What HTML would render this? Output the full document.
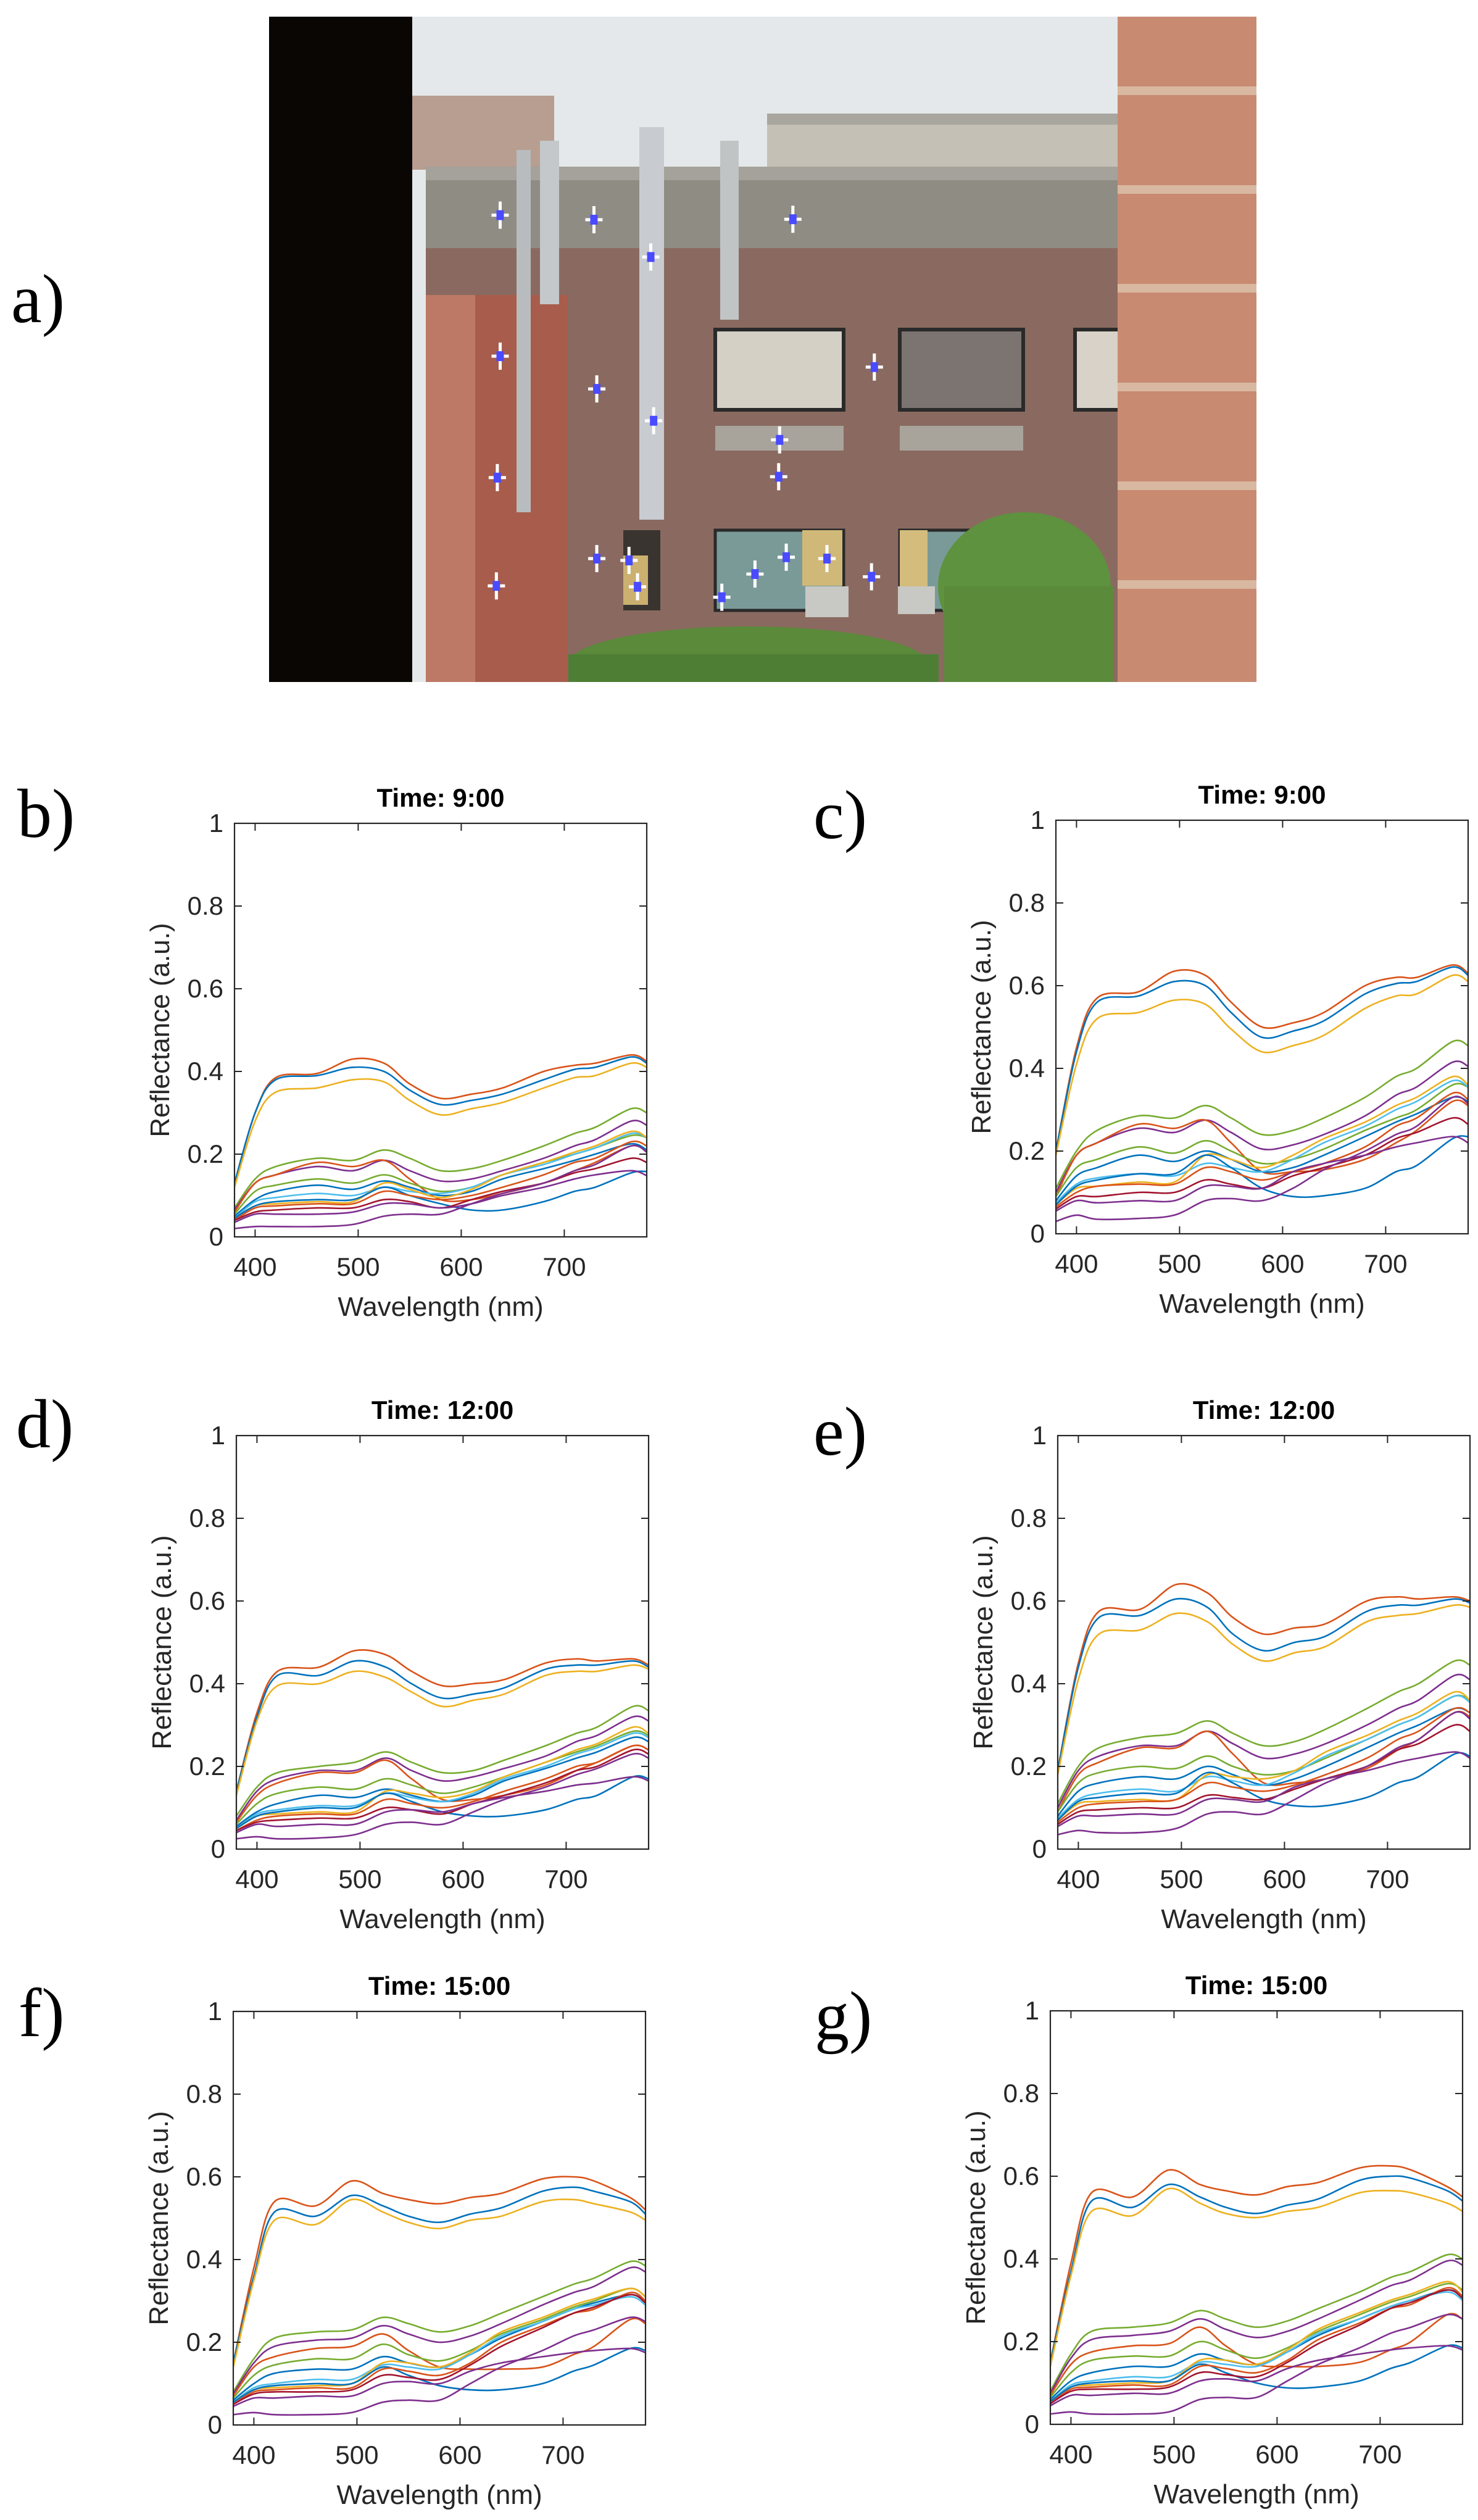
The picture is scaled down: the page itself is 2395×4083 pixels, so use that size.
<!DOCTYPE html>
<html><head><meta charset="utf-8"><style>
html,body{margin:0;padding:0;background:#fff;}
svg{display:block;}
</style></head><body>
<svg id="fig" xmlns="http://www.w3.org/2000/svg" width="2395" height="4083" viewBox="0 0 2395 4083">
<rect width="2395" height="4083" fill="#fff"/>
<defs><clipPath id="photo-clip"><rect x="436" y="27" width="1600" height="1078"/></clipPath></defs>
<text x="18" y="522" font-family="Liberation Serif, serif" font-size="112" fill="#000">a)</text>
<g id="photo" clip-path="url(#photo-clip)">
  <rect x="436" y="27" width="1608" height="1080" fill="#e4e8ea"/>
  <rect x="668" y="155" width="230" height="120" fill="#b89e90"/>
  <rect x="1243" y="184" width="576" height="100" fill="#c4c0b6"/>
  <rect x="1243" y="184" width="576" height="18" fill="#a8a69e"/>
  <rect x="690" y="270" width="1130" height="135" fill="#8f8c84"/>
  <rect x="690" y="270" width="1130" height="22" fill="#a4a29a"/>
  <rect x="690" y="402" width="1130" height="707" fill="#8a6a60"/>
  <rect x="690" y="478" width="230" height="630" fill="#a85c4c"/>
  <rect x="690" y="478" width="80" height="630" fill="#bd7866"/>
  <rect x="1159" y="534" width="208" height="130" fill="#d4d0c6" stroke="#2a2a2a" stroke-width="6"/>
  <rect x="1458" y="534" width="200" height="130" fill="#7c7470" stroke="#2a2a2a" stroke-width="6"/>
  <rect x="1742" y="534" width="78" height="130" fill="#d8d2c8" stroke="#2a2a2a" stroke-width="6"/>
  <rect x="1159" y="690" width="208" height="40" fill="#a8a49c"/>
  <rect x="1458" y="690" width="200" height="40" fill="#a8a49c"/>
  <rect x="1010" y="859" width="60" height="130" fill="#3a3430"/>
  <rect x="1159" y="859" width="208" height="130" fill="#7a9a98" stroke="#2a2a2a" stroke-width="5"/>
  <rect x="1300" y="859" width="65" height="90" fill="#d0b878"/>
  <rect x="1458" y="859" width="200" height="130" fill="#7a9a98" stroke="#2a2a2a" stroke-width="5"/>
  <rect x="1458" y="859" width="45" height="110" fill="#d4bc7c"/>
  <rect x="1010" y="900" width="40" height="80" fill="#cbb070"/>
  <rect x="1305" y="950" width="70" height="50" fill="#c8c8c4"/>
  <rect x="1455" y="950" width="60" height="45" fill="#c8c8c4"/>
  <rect x="837" y="243" width="23" height="587" fill="#b8bcbe"/>
  <rect x="875" y="228" width="31" height="265" fill="#c4c8ca"/>
  <rect x="1036" y="206" width="40" height="636" fill="#c8ccd0"/>
  <rect x="1167" y="228" width="30" height="290" fill="#c0c4c4"/>
  <ellipse cx="1212" cy="1075" rx="290" ry="60" fill="#5a8a3a"/>
  <ellipse cx="1660" cy="950" rx="140" ry="120" fill="#5e923e"/>
  <rect x="1530" y="950" width="275" height="159" fill="#5a8a3a"/>
  <rect x="921" y="1060" width="600" height="49" fill="#4e7e34"/>
  <rect x="436" y="27" width="232" height="1080" fill="#0a0604"/>
  <rect x="1811" y="27" width="233" height="1080" fill="#c98a72"/>
  <g fill="#d8b8a0">
    <rect x="1811" y="140" width="233" height="14"/><rect x="1811" y="300" width="233" height="14"/>
    <rect x="1811" y="460" width="233" height="14"/><rect x="1811" y="620" width="233" height="14"/>
    <rect x="1811" y="780" width="233" height="14"/><rect x="1811" y="940" width="233" height="14"/>
  </g>
  <g id="markers"></g>
</g>
<g id="plots"></g>
</svg>
<script>
// ---------- chart data ----------
const wavelengths = [380,400,420,460,495,525,550,580,610,640,680,710,730,765,780];
const seriesColors = ['#D95319','#0072BD','#EDB120','#77AC30','#7E2F8E','#D95319','#77AC30','#0072BD','#4DBEEE','#EDB120','#0072BD','#D95319','#A2142F','#7E2F8E','#7E2F8E'];
const yTicks = [0,0.2,0.4,0.6,0.8,1];
const yTickLabels = ['0','0.2','0.4','0.6','0.8','1'];
const xTicks = [400,500,600,700];
const xTickLabels = ['400','500','600','700'];

const seriesB = [
[0.13,0.30,0.385,0.395,0.43,0.42,0.37,0.335,0.345,0.36,0.40,0.415,0.42,0.44,0.425],
[0.13,0.30,0.38,0.39,0.41,0.40,0.355,0.32,0.33,0.345,0.38,0.405,0.41,0.435,0.42],
[0.12,0.28,0.35,0.36,0.38,0.375,0.33,0.295,0.31,0.325,0.36,0.385,0.39,0.42,0.41],
[0.07,0.14,0.17,0.19,0.185,0.21,0.19,0.16,0.165,0.185,0.22,0.25,0.265,0.31,0.30],
[0.065,0.13,0.15,0.17,0.16,0.185,0.16,0.135,0.14,0.16,0.19,0.22,0.235,0.28,0.27],
[0.06,0.13,0.15,0.18,0.17,0.185,0.14,0.09,0.09,0.105,0.13,0.16,0.18,0.22,0.21],
[0.055,0.11,0.125,0.14,0.13,0.15,0.13,0.11,0.12,0.15,0.18,0.20,0.215,0.245,0.24],
[0.05,0.09,0.11,0.125,0.115,0.135,0.12,0.10,0.11,0.14,0.165,0.185,0.20,0.225,0.21],
[0.045,0.085,0.095,0.105,0.10,0.12,0.11,0.105,0.12,0.15,0.175,0.20,0.215,0.25,0.24],
[0.045,0.075,0.08,0.085,0.085,0.13,0.115,0.095,0.115,0.15,0.18,0.205,0.22,0.255,0.24],
[0.045,0.075,0.085,0.09,0.09,0.12,0.10,0.08,0.065,0.065,0.085,0.11,0.12,0.155,0.158],
[0.04,0.07,0.075,0.08,0.08,0.11,0.10,0.09,0.10,0.12,0.15,0.18,0.19,0.23,0.22],
[0.04,0.06,0.065,0.07,0.07,0.09,0.085,0.07,0.09,0.11,0.13,0.155,0.165,0.19,0.18],
[0.035,0.055,0.055,0.055,0.06,0.08,0.08,0.07,0.08,0.10,0.12,0.14,0.15,0.16,0.148],
[0.02,0.025,0.025,0.025,0.03,0.05,0.055,0.055,0.08,0.105,0.13,0.16,0.175,0.22,0.205]];
const seriesC = [
[0.2,0.45,0.57,0.585,0.635,0.625,0.56,0.50,0.51,0.535,0.60,0.62,0.62,0.65,0.63],
[0.2,0.44,0.56,0.575,0.61,0.60,0.535,0.475,0.49,0.515,0.58,0.605,0.61,0.645,0.625],
[0.19,0.41,0.52,0.535,0.565,0.555,0.495,0.44,0.455,0.48,0.545,0.575,0.58,0.625,0.61],
[0.11,0.20,0.25,0.285,0.28,0.31,0.28,0.24,0.25,0.28,0.33,0.38,0.40,0.465,0.455],
[0.10,0.19,0.22,0.255,0.245,0.275,0.245,0.205,0.215,0.24,0.285,0.335,0.355,0.415,0.405],
[0.09,0.19,0.22,0.265,0.255,0.275,0.22,0.15,0.15,0.155,0.18,0.22,0.25,0.32,0.31],
[0.09,0.16,0.18,0.21,0.195,0.225,0.20,0.17,0.18,0.205,0.25,0.28,0.30,0.36,0.355],
[0.08,0.14,0.16,0.19,0.175,0.20,0.18,0.15,0.16,0.19,0.235,0.27,0.29,0.33,0.32],
[0.075,0.12,0.135,0.145,0.14,0.17,0.16,0.15,0.18,0.22,0.26,0.30,0.32,0.37,0.355],
[0.07,0.11,0.115,0.125,0.125,0.19,0.18,0.16,0.19,0.23,0.27,0.31,0.33,0.38,0.36],
[0.07,0.115,0.13,0.145,0.145,0.19,0.16,0.11,0.09,0.092,0.11,0.15,0.165,0.23,0.235],
[0.065,0.10,0.115,0.12,0.12,0.16,0.15,0.13,0.15,0.17,0.21,0.26,0.28,0.34,0.325],
[0.06,0.09,0.09,0.10,0.10,0.13,0.12,0.11,0.14,0.16,0.19,0.23,0.245,0.28,0.265],
[0.055,0.08,0.075,0.08,0.08,0.115,0.115,0.11,0.15,0.17,0.19,0.21,0.22,0.235,0.22],
[0.03,0.045,0.035,0.037,0.045,0.08,0.085,0.08,0.11,0.155,0.20,0.24,0.26,0.33,0.315]];
const seriesD = [
[0.14,0.33,0.43,0.44,0.48,0.47,0.43,0.395,0.40,0.41,0.45,0.46,0.455,0.46,0.445],
[0.14,0.32,0.42,0.42,0.455,0.44,0.40,0.365,0.375,0.39,0.435,0.445,0.445,0.455,0.44],
[0.13,0.31,0.395,0.40,0.43,0.415,0.38,0.345,0.36,0.375,0.42,0.43,0.43,0.445,0.435],
[0.08,0.15,0.185,0.20,0.21,0.235,0.21,0.185,0.19,0.215,0.25,0.28,0.295,0.345,0.335],
[0.07,0.14,0.17,0.19,0.19,0.22,0.19,0.165,0.175,0.195,0.225,0.26,0.275,0.32,0.31],
[0.065,0.13,0.16,0.185,0.185,0.215,0.17,0.12,0.12,0.13,0.155,0.19,0.21,0.25,0.24],
[0.06,0.11,0.135,0.15,0.145,0.17,0.155,0.135,0.15,0.175,0.21,0.235,0.25,0.285,0.275],
[0.055,0.09,0.11,0.13,0.125,0.145,0.13,0.115,0.13,0.165,0.195,0.22,0.235,0.27,0.26],
[0.05,0.085,0.095,0.105,0.105,0.135,0.125,0.115,0.135,0.17,0.20,0.23,0.245,0.28,0.27],
[0.05,0.08,0.085,0.09,0.09,0.14,0.135,0.125,0.14,0.175,0.21,0.24,0.255,0.295,0.28],
[0.05,0.08,0.09,0.10,0.10,0.135,0.115,0.09,0.08,0.08,0.095,0.12,0.13,0.175,0.17],
[0.045,0.07,0.08,0.085,0.085,0.12,0.11,0.10,0.115,0.14,0.17,0.20,0.21,0.25,0.24],
[0.045,0.065,0.07,0.075,0.075,0.10,0.095,0.085,0.11,0.13,0.16,0.19,0.20,0.24,0.23],
[0.04,0.06,0.055,0.06,0.06,0.09,0.095,0.09,0.11,0.125,0.14,0.155,0.16,0.175,0.165],
[0.025,0.03,0.025,0.027,0.035,0.06,0.065,0.06,0.09,0.12,0.15,0.18,0.195,0.23,0.22]];
const seriesE = [
[0.19,0.45,0.575,0.58,0.64,0.62,0.56,0.52,0.535,0.545,0.60,0.61,0.605,0.61,0.60],
[0.19,0.44,0.56,0.565,0.605,0.585,0.52,0.48,0.50,0.515,0.575,0.59,0.59,0.605,0.595],
[0.18,0.41,0.52,0.53,0.57,0.55,0.495,0.455,0.475,0.49,0.55,0.565,0.57,0.59,0.585],
[0.11,0.20,0.245,0.27,0.28,0.31,0.28,0.25,0.26,0.29,0.34,0.38,0.40,0.455,0.445],
[0.10,0.19,0.225,0.25,0.25,0.285,0.255,0.22,0.23,0.255,0.30,0.34,0.36,0.42,0.41],
[0.09,0.18,0.21,0.245,0.245,0.285,0.23,0.16,0.16,0.17,0.195,0.24,0.265,0.33,0.32],
[0.09,0.16,0.185,0.20,0.195,0.225,0.20,0.18,0.19,0.22,0.265,0.30,0.32,0.37,0.36],
[0.08,0.14,0.16,0.175,0.17,0.20,0.18,0.155,0.17,0.20,0.245,0.28,0.30,0.34,0.33],
[0.075,0.12,0.135,0.145,0.14,0.175,0.165,0.155,0.185,0.225,0.265,0.30,0.32,0.37,0.355],
[0.07,0.11,0.115,0.12,0.12,0.18,0.175,0.17,0.19,0.235,0.275,0.31,0.33,0.38,0.36],
[0.07,0.115,0.125,0.135,0.135,0.185,0.16,0.12,0.105,0.105,0.125,0.16,0.175,0.23,0.225],
[0.065,0.10,0.11,0.115,0.12,0.16,0.15,0.14,0.155,0.18,0.22,0.265,0.285,0.34,0.33],
[0.06,0.09,0.095,0.10,0.10,0.13,0.125,0.12,0.145,0.17,0.20,0.24,0.255,0.30,0.285],
[0.055,0.08,0.08,0.085,0.085,0.12,0.12,0.115,0.15,0.17,0.19,0.21,0.22,0.235,0.22],
[0.035,0.045,0.04,0.04,0.05,0.085,0.09,0.085,0.12,0.16,0.20,0.245,0.265,0.33,0.315]];
const seriesF = [
[0.15,0.38,0.54,0.53,0.59,0.56,0.545,0.535,0.55,0.56,0.595,0.60,0.59,0.55,0.52],
[0.15,0.36,0.515,0.505,0.555,0.53,0.505,0.49,0.51,0.525,0.565,0.575,0.565,0.54,0.51],
[0.14,0.35,0.495,0.485,0.545,0.515,0.49,0.475,0.495,0.505,0.54,0.545,0.535,0.515,0.495],
[0.08,0.16,0.21,0.225,0.23,0.26,0.245,0.225,0.24,0.27,0.31,0.34,0.355,0.395,0.385],
[0.075,0.15,0.19,0.205,0.21,0.24,0.22,0.20,0.215,0.245,0.29,0.32,0.335,0.38,0.37],
[0.07,0.14,0.165,0.185,0.19,0.22,0.18,0.14,0.135,0.135,0.14,0.17,0.19,0.255,0.245],
[0.065,0.12,0.145,0.16,0.16,0.195,0.17,0.155,0.18,0.22,0.255,0.285,0.30,0.33,0.31],
[0.06,0.10,0.125,0.135,0.135,0.165,0.15,0.14,0.17,0.21,0.25,0.28,0.295,0.315,0.30],
[0.055,0.09,0.10,0.11,0.11,0.145,0.14,0.135,0.17,0.215,0.25,0.28,0.29,0.31,0.29],
[0.055,0.085,0.09,0.095,0.10,0.15,0.15,0.14,0.175,0.225,0.26,0.29,0.305,0.33,0.31],
[0.055,0.085,0.095,0.10,0.10,0.14,0.12,0.095,0.085,0.085,0.10,0.13,0.145,0.185,0.18],
[0.05,0.08,0.085,0.09,0.09,0.135,0.13,0.12,0.15,0.20,0.24,0.27,0.28,0.32,0.30],
[0.05,0.075,0.08,0.08,0.085,0.12,0.115,0.11,0.145,0.19,0.235,0.27,0.285,0.315,0.295],
[0.045,0.065,0.065,0.07,0.07,0.10,0.105,0.10,0.13,0.15,0.165,0.175,0.18,0.185,0.175],
[0.025,0.03,0.025,0.025,0.03,0.055,0.06,0.06,0.10,0.14,0.18,0.215,0.23,0.26,0.25]];
const seriesG = [
[0.15,0.39,0.56,0.55,0.615,0.58,0.565,0.555,0.575,0.585,0.62,0.625,0.615,0.575,0.55],
[0.15,0.37,0.54,0.525,0.58,0.55,0.525,0.51,0.53,0.545,0.59,0.60,0.595,0.565,0.54],
[0.14,0.36,0.515,0.505,0.57,0.535,0.51,0.50,0.515,0.525,0.56,0.565,0.56,0.535,0.515],
[0.08,0.17,0.225,0.235,0.245,0.275,0.255,0.235,0.25,0.28,0.32,0.355,0.37,0.41,0.40],
[0.075,0.16,0.205,0.215,0.225,0.255,0.23,0.21,0.225,0.255,0.30,0.335,0.35,0.395,0.385],
[0.07,0.145,0.175,0.19,0.195,0.235,0.19,0.145,0.14,0.14,0.15,0.18,0.20,0.265,0.255],
[0.065,0.125,0.155,0.165,0.165,0.20,0.18,0.16,0.185,0.225,0.265,0.295,0.31,0.34,0.325],
[0.06,0.105,0.125,0.14,0.14,0.17,0.155,0.145,0.175,0.215,0.255,0.285,0.30,0.325,0.31],
[0.055,0.095,0.105,0.115,0.115,0.15,0.145,0.14,0.175,0.22,0.255,0.285,0.30,0.32,0.30],
[0.055,0.09,0.095,0.10,0.105,0.155,0.155,0.145,0.18,0.23,0.27,0.30,0.315,0.345,0.32],
[0.055,0.09,0.10,0.105,0.105,0.145,0.125,0.10,0.088,0.09,0.105,0.135,0.15,0.19,0.185],
[0.05,0.085,0.09,0.095,0.095,0.14,0.135,0.125,0.155,0.205,0.245,0.28,0.29,0.33,0.31],
[0.05,0.08,0.085,0.085,0.09,0.125,0.12,0.115,0.15,0.195,0.24,0.28,0.295,0.325,0.305],
[0.045,0.07,0.07,0.075,0.075,0.105,0.11,0.105,0.135,0.155,0.17,0.18,0.185,0.19,0.18],
[0.025,0.03,0.025,0.025,0.03,0.06,0.065,0.065,0.105,0.145,0.185,0.22,0.235,0.265,0.255]];

const NS='http://www.w3.org/2000/svg';
function mk(tag, attrs, parent){
  const e=document.createElementNS(NS,tag);
  for(const k in attrs) e.setAttribute(k,attrs[k]);
  if(parent) parent.appendChild(e);
  return e;
}
// photo markers
const markerPts=[[528,473],[627,483],[837,482],[687,565],[528,783],[630,855],[923,807],[690,925],[823,967],[822,1048],[525,1050],[630,1228],[664,1232],[673,1290],[524,1288],[762,1313],[797,1262],[830,1225],[873,1228],[920,1268]];
const mg=document.getElementById('markers');
markerPts.forEach(p=>{
  const cx=p[0]*1.535, cy=p[1]*0.737;
  const g=mk('g',{},mg);
  
  
  mk('rect',{x:cx-2.5,y:cy-22,width:5,height:44,fill:'#fff'},g);
  mk('rect',{x:cx-14,y:cy-2.5,width:28,height:5,fill:'#fff'},g);
  mk('rect',{x:cx-6,y:cy-8,width:12,height:16,fill:'#4a4aff'},g);
});

const plotsG=document.getElementById('plots');
function smoothPath(pts){
  let d='M'+pts[0][0].toFixed(1)+','+pts[0][1].toFixed(1);
  for(let i=0;i<pts.length-1;i++){
    const p0=pts[i-1]||pts[i], p1=pts[i], p2=pts[i+1], p3=pts[i+2]||p2;
    const c1x=p1[0]+(p2[0]-p0[0])/6, c1y=p1[1]+(p2[1]-p0[1])/6;
    const c2x=p2[0]-(p3[0]-p1[0])/6, c2y=p2[1]-(p3[1]-p1[1])/6;
    d+=' C'+c1x.toFixed(1)+','+c1y.toFixed(1)+' '+c2x.toFixed(1)+','+c2y.toFixed(1)+' '+p2[0].toFixed(1)+','+p2[1].toFixed(1);
  }
  return d;
}
function drawPlot(key,L,T,title,letter,lx,ly,series){
  const W=668,H=670;
  const xs=v=>L+(v-380)/(780-380)*W;
  const ys=v=>T+H-(v/1)*H;
  const g=mk('g',{},plotsG);
  
  
  const lt=mk('text',{x:lx,y:ly,'font-family':'Liberation Serif, serif','font-size':112,fill:'#000'},g);
  lt.textContent=letter;
  
  
  const tt=mk('text',{x:L+W/2,y:T-27,'text-anchor':'middle','font-family':'Liberation Sans, sans-serif','font-size':42,'font-weight':'bold',fill:'#000'},g);
  tt.textContent=title;
  
  
  const clipId='clip-'+key;
  const cp=mk('clipPath',{id:clipId},g);
  mk('rect',{x:L,y:T,width:W,height:H},cp);
  const lg=mk('g',{'clip-path':'url(#'+clipId+')'},g);
  series.forEach((s,i)=>{
    const pts=s.map((v,j)=>[xs(wavelengths[j]),ys(v)]);
    const p=mk('path',{d:smoothPath(pts),fill:'none',stroke:seriesColors[i],'stroke-width':2.6},lg);
    
    
  });
  const box=mk('rect',{x:L,y:T,width:W,height:H,fill:'none',stroke:'#262626','stroke-width':2.2},g);
  
  
  yTicks.forEach((v,i)=>{
    const y=ys(v);
    mk('line',{x1:L,x2:L+12,y1:y,y2:y,stroke:'#262626','stroke-width':2},g);
    mk('line',{x1:L+W,x2:L+W-12,y1:y,y2:y,stroke:'#262626','stroke-width':2},g);
    const t=mk('text',{x:L-18,y:y+14,'text-anchor':'end','font-family':'Liberation Sans, sans-serif','font-size':42,fill:'#262626'},g);
    t.textContent=yTickLabels[i];
    
    
  });
  xTicks.forEach((v,i)=>{
    const x=xs(v);
    mk('line',{x1:x,x2:x,y1:T+H,y2:T+H-12,stroke:'#262626','stroke-width':2},g);
    mk('line',{x1:x,x2:x,y1:T,y2:T+12,stroke:'#262626','stroke-width':2},g);
    const t=mk('text',{x:x,y:T+H+63,'text-anchor':'middle','font-family':'Liberation Sans, sans-serif','font-size':42,fill:'#262626'},g);
    t.textContent=xTickLabels[i];
    
    
  });
  const xl=mk('text',{x:L+W/2,y:T+H+128,'text-anchor':'middle','font-family':'Liberation Sans, sans-serif','font-size':44,fill:'#262626'},g);
  xl.textContent='Wavelength (nm)';
  
  
  const yx=L-106, yy=T+H/2;
  const yl=mk('text',{x:yx,y:yy,'text-anchor':'middle','font-family':'Liberation Sans, sans-serif','font-size':44,fill:'#262626',transform:'rotate(-90 '+yx+' '+yy+')'},g);
  yl.textContent='Reflectance (a.u.)';
  
  
}
drawPlot('b',380,1334,'Time: 9:00','b)',28,1356,seriesB);
drawPlot('c',1711,1329,'Time: 9:00','c)',1318,1358,seriesC);
drawPlot('d',383,2326,'Time: 12:00','d)',26,2345,seriesD);
drawPlot('e',1714,2326,'Time: 12:00','e)',1318,2357,seriesE);
drawPlot('f',378,3259,'Time: 15:00','f)',30,3299,seriesF);
drawPlot('g',1702,3258,'Time: 15:00','g)',1320,3304,seriesG);
</script>
</body></html>
